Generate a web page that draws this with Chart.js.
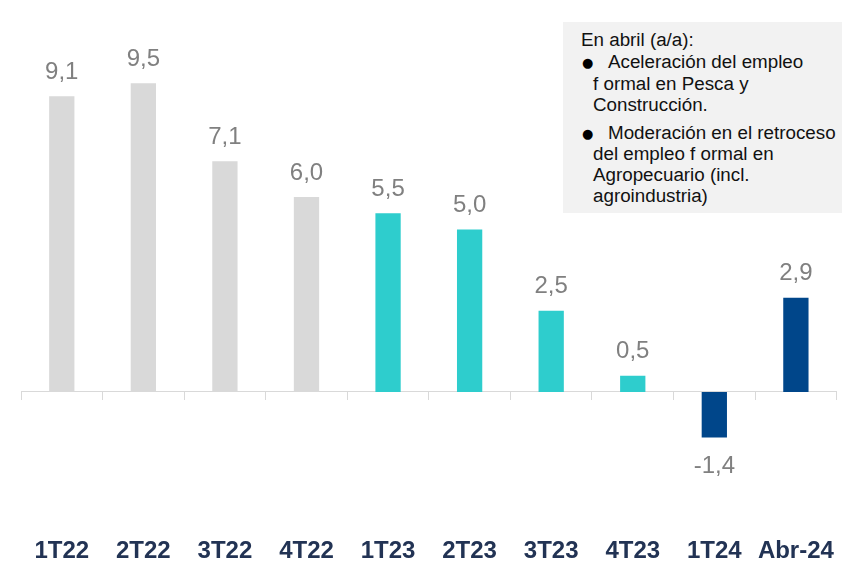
<!DOCTYPE html>
<html>
<head>
<meta charset="utf-8">
<script src="https://cdn.jsdelivr.net/npm/chart.js@4.4.1/dist/chart.umd.min.js"></script>
<style>
html, body { margin: 0; padding: 0; background: #ffffff; }
#wrap { position: relative; width: 842px; height: 562px; overflow: hidden; }
#c { position: absolute; left: 0; top: 0; }
#note { position: absolute; left: 563px; top: 22px; width: 279px; height: 191px; background: #f2f2f2;
  font-family: "Liberation Sans", Arial, sans-serif; font-size: 18.8px; color: #111111; }
#note .ln { position: absolute; white-space: nowrap; line-height: 21px; }
#note .bul { position: absolute; font-family: "DejaVu Sans", sans-serif; font-size: 13px; line-height: 21px; color: #000; }
</style>
</head>
<body>
<div id="wrap">
  <canvas id="c" width="842" height="562"></canvas>
  <div id="note">
    <div class="ln" style="left:18px;top:7px;">En abril (a/a):</div>
    <div class="bul" style="left:19px;top:30px;">●</div>
    <div class="ln" style="left:45px;top:29px;">Aceleración del empleo</div>
    <div class="ln" style="left:30px;top:51px;">f ormal en Pesca y</div>
    <div class="ln" style="left:30px;top:72px;">Construcción.</div>
    <div class="bul" style="left:19px;top:101px;">●</div>
    <div class="ln" style="left:45px;top:100px;">Moderación en el retroceso</div>
    <div class="ln" style="left:30px;top:121px;">del empleo f ormal en</div>
    <div class="ln" style="left:30px;top:142px;">Agropecuario (incl.</div>
    <div class="ln" style="left:30px;top:163px;">agroindustria)</div>
  </div>
</div>
<script>
// ---- data ----
const categories = ['1T22', '2T22', '3T22', '4T22', '1T23', '2T23', '3T23', '4T23', '1T24', 'Abr-24'];
const values = [9.1, 9.5, 7.1, 6.0, 5.5, 5.0, 2.5, 0.5, -1.4, 2.9];
const periodGroup = ['2022', '2022', '2022', '2022', '2023', '2023', '2023', '2023', '2024', '2024'];

// ---- styles ----
const palette = { '2022': '#D9D9D9', '2023': '#2ECDCD', '2024': '#00468A' };
const FONT = '"Liberation Sans", Arial, sans-serif';

const valueLabels = {
  id: 'valueLabels',
  afterDatasetsDraw(chart) {
    const ctx = chart.ctx;
    const meta = chart.getDatasetMeta(0);
    ctx.save();
    ctx.font = '24px ' + FONT;
    ctx.fillStyle = '#808080';
    ctx.textAlign = 'center';
    ctx.textBaseline = 'middle';
    meta.data.forEach((bar, i) => {
      const v = values[i];
      const y = v >= 0 ? bar.y - 24 : bar.y + 29;
      ctx.fillText(v.toFixed(1).replace('.', ','), bar.x, y);
    });
    ctx.restore();
  }
};

new Chart(document.getElementById('c'), {
  type: 'bar',
  data: {
    labels: categories,
    datasets: [{
      data: values,
      backgroundColor: periodGroup.map(g => palette[g]),
      borderWidth: 0,
      barPercentage: 0.31,
      categoryPercentage: 1.0,
      xAxisID: 'x',
      yAxisID: 'y'
    }]
  },
  options: {
    responsive: false,
    animation: false,
    devicePixelRatio: 1,
    layout: { padding: { top: 34.5, left: 21, right: 2, bottom: 0 } },
    plugins: { legend: { display: false }, tooltip: { enabled: false } },
    scales: {
      y: { display: false, min: -4.2, max: 11 },
      x: {
        position: { y: 0 },
        offset: true,
        grid: { offset: true, drawOnChartArea: false, drawTicks: true, tickLength: 8, color: '#D9D9D9', lineWidth: 1 },
        border: { display: true, color: '#D9D9D9', width: 1 },
        ticks: { display: false }
      },
      xl: {
        position: 'bottom',
        offset: true,
        grid: { display: false, drawTicks: false, offset: true },
        border: { display: false },
        ticks: { autoSkip: false, maxRotation: 0, padding: 8, color: '#223354', font: { family: FONT, size: 24, weight: 'bold' } },
        afterFit(scale) { scale.height = 33.5; }
      }
    }
  },
  plugins: [valueLabels]
});
</script>
</body>
</html>
